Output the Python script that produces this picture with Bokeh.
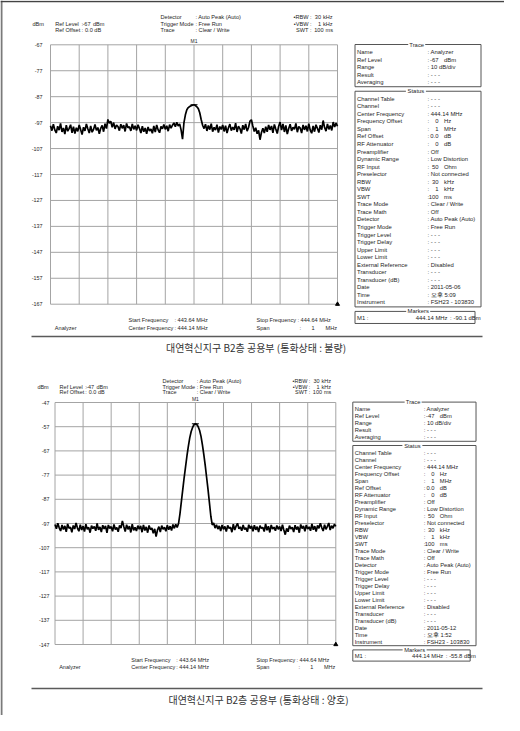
import numpy as np
from bokeh.plotting import figure
from bokeh.models import Range1d
from bokeh.core.properties import value
from bokeh.embed import file_html
from bokeh.resources import INLINE

# ---------------- data ----------------
START_FREQ = 443.64
STOP_FREQ = 444.64
CENTER_FREQ = 444.14

yticks_1 = [-67, -77, -87, -97, -107, -117, -127, -137, -147, -157, -167]
yticks_2 = [-47, -57, -67, -77, -87, -97, -107, -117, -127, -137, -147]

trace_1 = [
    -98.2, -100.1, -97.6, -99.8, -101.0, -98.4, -99.9, -97.3, -100.6, -99.1,
    -101.4, -98.0, -100.3, -99.2, -97.8, -100.9, -98.6, -101.2, -99.0, -100.4,
    -97.9, -99.7, -101.6, -98.8, -100.2, -97.5, -99.4, -101.0, -98.3, -100.7,
    -99.6, -97.7, -100.0, -98.9, -101.3, -99.2, -98.1, -100.5, -97.4, -99.3,
    -95.8, -97.2, -96.5, -98.8, -97.0, -99.4, -97.9, -98.5, -100.1, -97.6,
    -99.2, -98.0, -100.4, -97.3, -99.0, -98.6, -100.2, -97.5, -99.6, -98.2,
    -100.0, -97.8, -99.3, -101.0, -98.4, -100.5, -99.1, -101.3, -98.7, -100.2,
    -99.5, -101.1, -98.3, -100.6, -97.9, -99.8, -100.9, -98.5, -99.4, -97.7,
    -99.6, -98.2, -100.3, -97.8, -99.1, -98.0, -97.1, -98.6, -96.9, -98.3,
    -97.5, -99.8, -103.4, -97.0, -94.0, -92.0, -91.2, -90.8, -90.5, -90.3,
    -90.1, -90.4, -90.9, -91.6, -93.2, -95.8, -98.0, -99.3, -97.6, -100.2,
    -98.1, -99.7, -97.4, -100.5, -98.8, -99.9, -97.8, -100.8, -98.5, -99.6,
    -97.9, -100.4, -98.2, -101.0, -99.0, -97.6, -100.1, -98.7, -99.8, -97.2,
    -100.6, -98.4, -99.3, -101.2, -98.0, -99.7, -97.5, -100.3, -98.9, -96.4,
    -95.9, -98.3, -100.4, -99.0, -101.3, -100.0, -103.6, -100.8, -99.2, -101.0,
    -98.6, -100.5, -97.9, -99.8, -98.3, -100.9, -97.7, -99.5, -101.2, -98.4,
    -96.8, -99.9, -97.5, -100.6, -98.1, -101.4, -99.3, -97.6, -100.2, -98.8,
    -99.6, -97.3, -100.7, -98.5, -99.1, -101.0, -97.9, -99.8, -98.2, -100.4,
    -97.4, -99.9, -101.1, -98.3, -100.5, -97.8, -99.2, -100.8, -98.0, -99.7,
    -96.2, -98.9, -100.3, -97.5, -99.6, -98.1, -100.0, -96.8, -98.7, -97.2,
    -98.4,
]

trace_2 = [
    -97.4, -99.2, -96.9, -98.8, -100.1, -97.6, -99.5, -98.0, -100.4, -97.2,
    -99.0, -98.5, -100.6, -97.8, -99.3, -96.8, -98.9, -100.2, -97.5, -99.7,
    -98.1, -100.3, -97.3, -99.4, -98.6, -100.8, -97.9, -99.1, -98.2, -100.0,
    -97.0, -99.6, -98.4, -100.5, -97.7, -99.2, -98.0, -100.9, -97.6, -99.0,
    -98.3, -100.2, -97.4, -99.5, -98.7, -100.4, -97.8, -98.9, -95.9, -98.2,
    -100.3, -97.5, -99.4, -98.1, -100.7, -97.3, -99.8, -98.6, -100.1, -97.9,
    -99.3, -98.0, -100.6, -97.6, -99.9, -98.4, -100.8, -97.8, -99.5, -98.9,
    -101.0, -99.2, -102.4, -99.7, -98.3, -100.5, -97.9, -99.4, -98.6, -100.2,
    -97.7, -99.6, -98.1, -99.9, -97.4, -99.0, -97.3, -98.6, -97.0, -93.0,
    -88.0, -83.0, -78.0, -73.5, -69.0, -65.0, -61.5, -59.0, -57.3, -56.2,
    -55.8, -56.1, -57.0, -58.6, -61.0, -64.5, -68.5, -73.0, -78.0, -83.0,
    -88.5, -94.0, -97.6, -96.8, -98.9, -97.5, -99.3, -98.0, -100.1, -97.6,
    -99.4, -98.2, -100.3, -97.8, -99.0, -98.5, -100.6, -97.3, -99.7, -98.1,
    -96.9, -99.2, -98.4, -100.0, -97.6, -99.5, -98.8, -100.4, -97.5, -99.1,
    -98.0, -100.2, -97.7, -99.6, -98.3, -100.5, -97.9, -99.0, -98.6, -100.3,
    -97.2, -99.8, -98.1, -100.7, -97.6, -99.3, -98.5, -100.0, -97.8, -99.4,
    -98.2, -100.1, -97.5, -99.7, -101.6, -99.0, -100.4, -97.9, -99.2, -98.6,
    -100.5, -97.7, -99.5, -98.3, -100.8, -97.4, -99.1, -98.0, -100.2, -97.6,
    -99.3, -98.4, -100.0, -97.2, -99.6, -98.1, -100.3, -97.8, -99.0, -96.9,
    -98.7, -100.1, -97.5, -99.4, -98.2, -96.8, -99.7, -97.9, -99.0, -97.3,
    -98.2,
]

marker_1 = -90.1
marker_2 = -55.8
ref_level_1 = "-67"
ref_level_2 = "-47"
date_1, time_1 = "2011-05-06", "오후 5:09"
date_2, time_2 = "2011-05-12", "오후 1:52"
caption_1 = "대연혁신지구 B2층 공용부 (통화상태 : 불량)"
caption_2 = "대연혁신지구 B2층 공용부 (통화상태 : 양호)"

trace_rows = ["Name", "Ref Level", "Range", "Result", "Averaging"]
status_rows = ["Channel Table", "Channel", "Center Frequency", "Frequency Offset",
               "Span", "Ref Offset", "RF Attenuator", "Preamplifier", "Dynamic Range",
               "RF Input", "Preselector", "RBW", "VBW", "SWT", "Trace Mode",
               "Trace Math", "Detector", "Trigger Mode", "Trigger Level",
               "Trigger Delay", "Upper Limit", "Lower Limit", "External Reference",
               "Transducer", "Transducer (dB)", "Date", "Time", "Instrument"]

# ---------------- styling ----------------
FONT = "Liberation Sans"
TXT = "#262626"
GRID = "#a4a4a4"
BOX = "#555555"

p = figure(width=504, height=715, x_range=Range1d(8, 512), y_range=Range1d(723, 8),
           output_backend="svg", toolbar_location=None, min_border=0,
           x_axis_location=None, y_axis_location=None)
p.grid.visible = False
p.outline_line_color = None
p.background_fill_color = "white"

# page borders
p.segment(x0=[9], y0=[8], x1=[9], y1=[723], line_color="#7a7a7a", line_width=2)
p.segment(x0=[8], y0=[9], x1=[512], y1=[9], line_color="#444444", line_width=1.5)


def texts(items, fs, align="left", color=TXT, font=FONT, **kw):
    if not items:
        return
    xs, ys, ts = zip(*items)
    p.text(x=list(xs), y=list(ys), text=list(ts), text_font=value(font),
           text_font_size=value(f"{fs}px"), text_color=color,
           text_align=align, text_baseline="middle", **kw)


def section(tag, ref_label, yticks, trace, mk, date, time, caption, G):
    X = G["X"]
    fs = G["fs"]
    pfs = G["pfs"]
    px0, px1, py0, py1 = G["plot"]
    kx = (px1 - px0) / (STOP_FREQ - START_FREQ)
    ky = (py1 - py0) / (yticks[0] - yticks[-1])
    p.extra_x_ranges[tag + "x"] = Range1d(START_FREQ - (px0 - 8) / kx, STOP_FREQ + (512 - px1) / kx)
    p.extra_y_ranges[tag + "y"] = Range1d(yticks[-1] - (723 - py1) / ky, yticks[0] + (py0 - 8) / ky)
    kw = dict(x_range_name=tag + "x", y_range_name=tag + "y")

    xt = np.linspace(START_FREQ, STOP_FREQ, 11)
    n = len(yticks)
    p.segment(x0=xt, y0=[yticks[-1]] * 11, x1=xt, y1=[yticks[0]] * 11,
              line_color=GRID, line_width=1, **kw)
    p.segment(x0=[START_FREQ] * n, y0=yticks, x1=[STOP_FREQ] * n, y1=yticks,
              line_color=GRID, line_width=1, **kw)
    freqs = np.linspace(START_FREQ, STOP_FREQ, len(trace))
    p.line(freqs, trace, line_color="black", line_width=1.7, **kw)
    # marker and labels
    p.scatter(x=[CENTER_FREQ], y=[mk], marker="dash", size=7, line_color="black", line_width=1, **kw)
    p.text(x=[CENTER_FREQ], y=[yticks[0]], text=["M1"], y_offset=-1,
           text_font=value(FONT), text_font_size=value("5px"), text_color=TXT,
           text_align="center", text_baseline="bottom", **kw)
    p.scatter(x=[STOP_FREQ], y=[yticks[-1]], marker="triangle", size=4,
              fill_color="black", line_color="black", **kw)
    p.text(x=[START_FREQ] * n, y=yticks, text=[str(t) for t in yticks],
           x_offset=-(px0 - G["tick_right"]), text_font=value(FONT),
           text_font_size=value(f"{fs - 0.2}px"), text_color=TXT,
           text_align="right", text_baseline="middle", **kw)

    # header
    r0, r1, r2 = G["hdr"]
    left = [(X(168), r0, "Detector"), (X(203), r0, ": Auto Peak (Auto)"),
            (X(40), r1, "dBm"), (X(62.7), r1, "Ref Level"), (X(89), r1, ":"),
            (X(100.5), r1, "dBm"), (X(168), r1, "Trigger Mode"), (X(203), r1, ": Free Run"),
            (X(62.7), r2, "Ref Offset"), (X(89), r2, ":"), (X(92.5), r2, "0.0 dB"),
            (X(168), r2, "Trace"), (X(203), r2, ": Clear / Write"),
            (X(317.5), r0, ":"), (X(317.5), r1, ":"), (X(317.5), r2, ":"),
            (X(330.5), r0, "kHz"), (X(330.5), r1, "kHz"), (X(333), r2, "ms")]
    right = [(X(98), r1, ref_label), (X(316), r0, "•RBW"), (X(316), r1, "•VBW"),
             (X(316), r2, "SWT"), (X(328.5), r0, "30"), (X(328.5), r1, "1"),
             (X(331), r2, "100")]
    texts(left, fs)
    texts(right, fs, align="right")

    # bottom rows
    b0, b1 = G["bot"]
    texts([(X(62.3), b1, "Analyzer"),
           (X(136), b0, "Start Frequency"), (X(182), b0, ": 443.64 MHz"),
           (X(136), b1, "Center Frequency"), (X(182), b1, ": 444.14 MHz"),
           (X(264), b0, "Stop Frequency"), (X(305), b0, ": 444.64 MHz"),
           (X(264), b1, "Span"), (X(307), b1, ":"), (X(333), b1, "MHz")], fs)
    texts([(X(322), b1, "1")], fs, align="right")

    # caption line + caption
    p.segment(x0=[39], y0=[G["line"]], x1=[490], y1=[G["line"]], line_color="#5a5a5a", line_width=1.3)
    texts([(G["capx"], G["cap"], caption)], 10, align="center", color="#333333",
          font="Noto Sans CJK KR")

    # side panel
    t0, dy = G["pan"]
    bl, br = X(362.5), X(488.5)
    Y = lambda k: t0 + k * dy
    p.quad(left=[bl, bl, bl], right=[br, br, X(482.5)],
           top=[Y(0), Y(6.2), Y(35.4)], bottom=[Y(5.6), Y(34.8), Y(37.0)],
           fill_color=None, line_color=BOX, line_width=1)
    gaps = [(X(424.2), 8.5, Y(0)), (X(423.4), 10, Y(6.2)), (X(425.7), 12, Y(35.4))]
    p.quad(left=[g[0] - g[1] for g in gaps], right=[g[0] + g[1] for g in gaps],
           top=[g[2] - 1.5 for g in gaps], bottom=[g[2] + 1.5 for g in gaps],
           fill_color="white", line_color=None)
    texts([(g[0], g[2], t) for g, t in zip(gaps, ["Trace", "Status", "Markers"])],
          pfs, align="center")

    trace_vals = [("Analyzer", ""), (ref_label, "dBm"), ("10 dB/div", ""), ("- - -", ""), ("- - -", "")]
    status_vals = [("- - -", ""), ("- - -", ""), ("444.14 MHz", ""), ("0", "Hz"), ("1", "MHz"),
                   ("0.0", "dB"), ("0", "dB"), ("Off", ""), ("Low Distortion", ""),
                   ("50", "Ohm"), ("Not connected", ""), ("30", "kHz"), ("1", "kHz"),
                   ("100", "ms"), ("Clear / Write", ""), ("Off", ""), ("Auto Peak (Auto)", ""),
                   ("Free Run", ""), ("- - -", ""), ("- - -", ""), ("- - -", ""), ("- - -", ""),
                   ("Disabled", ""), ("- - -", ""), ("- - -", ""), (date, ""), (time, ""),
                   ("FSH23 - 103830", "")]
    rows = [(Y(1 + i), lab, v) for i, (lab, v) in enumerate(zip(trace_rows, trace_vals))]
    rows += [(Y(7.2 + i), lab, v) for i, (lab, v) in enumerate(zip(status_rows, status_vals))]
    lefts, rights = [], []
    for y, lab, (val, unit) in rows:
        lefts.append((X(364.5), y, lab))
        if unit:
            lefts.append((X(435), y, ":"))
            rights.append((X(446), y, val))
            lefts.append((X(451.5), y, unit))
        else:
            lefts.append((X(435), y, ": " + val))
    ym = Y(36.25)
    lefts += [(X(364.5), ym, "M1 :"), (X(457.5), ym, ":"), (X(461), ym, f"{mk:.1f} dBm")]
    rights += [(X(455), ym, "444.14 MHz")]
    texts(lefts, pfs)
    texts(rights, pfs, align="right")


G1 = dict(X=lambda x: x, fs=5.6, pfs=5.9, plot=(58, 345, 52.3, 311.7), tick_right=50,
          hdr=(24.3, 31.0, 37.7), bot=(327.5, 335.3), line=344, cap=354.5, capx=263.5,
          pan=(52, 7.54))
G2 = dict(X=lambda x: 62.5 + (x - 58) * 0.978, fs=5.5, pfs=5.8, plot=(62.5, 343.3, 410, 652),
          tick_right=57, hdr=(388.8, 394.3, 399.6), bot=(667, 674.3), line=696, cap=707,
          capx=266, pan=(409.6, 7.0))

section("s1", ref_level_1, yticks_1, trace_1, marker_1, date_1, time_1, caption_1, G1)
section("s2", ref_level_2, yticks_2, trace_2, marker_2, date_2, time_2, caption_2, G2)

open("out.html", "w").write(file_html(p, INLINE))
